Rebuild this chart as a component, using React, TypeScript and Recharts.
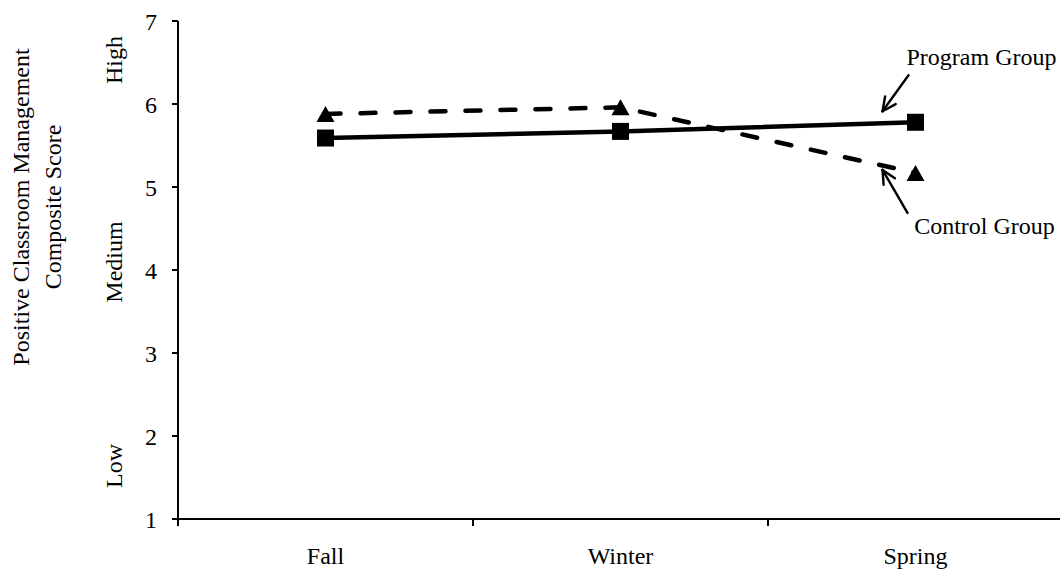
import React from 'react';
import { LineChart, Line, XAxis, YAxis, LabelList } from 'recharts';

const categories = ['Fall', 'Winter', 'Spring'];
const programScores = [5.59, 5.67, 5.78];
const controlScores = [5.88, 5.96, 5.17];
const yTicks = [1, 2, 3, 4, 5, 6, 7];
const xTicks = [0, 0.5, 1, 1.5, 2, 2.5, 3];
const levelLabels = ['High', 'Medium', 'Low'];
const titleLines = ['Positive Classroom Management', 'Composite Score'];

const data = categories.map((name, i) => ({
  pos: i + 0.5,
  name,
  program: programScores[i],
  control: controlScores[i],
}));

const FONT = '"Liberation Serif", "Times New Roman", serif';
const FS = 24;

const XTick = (props: any) => {
  const { x, y, payload } = props;
  const v = payload.value as number;
  if (Number.isInteger(v)) {
    return <line x1={x} x2={x} y1={y} y2={y + 7} stroke="#000" strokeWidth={2} />;
  }
  const label = categories[Math.floor(v)];
  return (
    <text x={x} y={y + 45} textAnchor="middle" fontFamily={FONT} fontSize={FS} fill="#000">
      {label}
    </text>
  );
};

const SquareDot = (props: any) => {
  const { cx, cy, index } = props;
  if (cx == null || cy == null) return <g key={index} />;
  const s = 17;
  return <rect key={index} x={cx - s / 2} y={cy - s / 2} width={s} height={s} fill="#000" />;
};

const TriangleDot = (props: any) => {
  const { cx, cy, index } = props;
  if (cx == null || cy == null) return <g key={index} />;
  const w = 18;
  const h = 16;
  return (
    <polygon
      key={index}
      points={`${cx - w / 2},${cy + h / 2} ${cx + w / 2},${cy + h / 2} ${cx},${cy - h / 2}`}
      fill="#000"
    />
  );
};

const Arrow = ({ x1, y1, x2, y2 }: { x1: number; y1: number; x2: number; y2: number }) => {
  const ang = Math.atan2(y2 - y1, x2 - x1);
  const len = 15;
  const spread = 0.45;
  const a1 = ang + Math.PI - spread;
  const a2 = ang + Math.PI + spread;
  return (
    <g stroke="#000" strokeWidth={2.4} fill="none" strokeLinecap="round">
      <line x1={x1} y1={y1} x2={x2} y2={y2} />
      <line x1={x2} y1={y2} x2={x2 + len * Math.cos(a1)} y2={y2 + len * Math.sin(a1)} />
      <line x1={x2} y1={y2} x2={x2 + len * Math.cos(a2)} y2={y2 + len * Math.sin(a2)} />
    </g>
  );
};

const ProgramNote = (props: any) => {
  const { x, y, index } = props;
  if (index !== categories.length - 1) return null;
  return (
    <g>
      <text x={x + 66} y={y - 57} textAnchor="middle" fontFamily={FONT} fontSize={FS} fill="#000">
        Program Group
      </text>
      <Arrow x1={x - 7} y1={y - 47} x2={x - 33} y2={y - 11} />
    </g>
  );
};

const ControlNote = (props: any) => {
  const { x, y, index } = props;
  if (index !== categories.length - 1) return null;
  return (
    <g>
      <text x={x + 69} y={y + 61} textAnchor="middle" fontFamily={FONT} fontSize={FS} fill="#000">
        Control Group
      </text>
      <Arrow x1={x - 8} y1={y + 40} x2={x - 33} y2={y - 3} />
    </g>
  );
};

const YTitle = () => (
  <g fontFamily={FONT} fontSize={FS} fill="#000">
    <text transform="translate(29, 207) rotate(-90)" textAnchor="middle">
      {titleLines[0]}
    </text>
    <text transform="translate(61, 207) rotate(-90)" textAnchor="middle">
      {titleLines[1]}
    </text>
    <text transform="translate(122, 60) rotate(-90)" textAnchor="middle">
      {levelLabels[0]}
    </text>
    <text transform="translate(122, 262) rotate(-90)" textAnchor="middle">
      {levelLabels[1]}
    </text>
    <text transform="translate(122, 466) rotate(-90)" textAnchor="middle">
      {levelLabels[2]}
    </text>
  </g>
);

export default function App() {
  return (
    <div style={{ position: 'absolute', left: 0, top: 0, width: 1060, height: 569, overflow: 'hidden', background: '#fff' }}>
      <LineChart width={1063} height={569} data={data} margin={{ top: 21, right: 0, bottom: 0, left: 0 }}>
        <XAxis
          type="number"
          dataKey="pos"
          domain={[0, 3]}
          ticks={xTicks}
          interval={0}
          tickLine={false}
          tickSize={0}
          tickMargin={0}
          height={50}
          axisLine={{ stroke: '#000', strokeWidth: 2 }}
          tick={<XTick />}
        />
        <YAxis
          type="number"
          domain={[1, 7]}
          ticks={yTicks}
          interval={0}
          width={178}
          tickSize={6}
          tickMargin={15}
          axisLine={{ stroke: '#000', strokeWidth: 2 }}
          tickLine={{ stroke: '#000', strokeWidth: 2 }}
          tick={{ fill: '#000', fontSize: FS, fontFamily: FONT }}
          label={{ content: () => <YTitle /> }}
        />
        <Line
          dataKey="control"
          stroke="#000"
          strokeWidth={4.5}
          strokeDasharray="15 20"
          strokeLinecap="round"
          dot={<TriangleDot />}
          isAnimationActive={false}
        >
          <LabelList dataKey="control" content={<ControlNote />} />
        </Line>
        <Line
          dataKey="program"
          stroke="#000"
          strokeWidth={4.5}
          dot={<SquareDot />}
          isAnimationActive={false}
        >
          <LabelList dataKey="program" content={<ProgramNote />} />
        </Line>
      </LineChart>
    </div>
  );
}
